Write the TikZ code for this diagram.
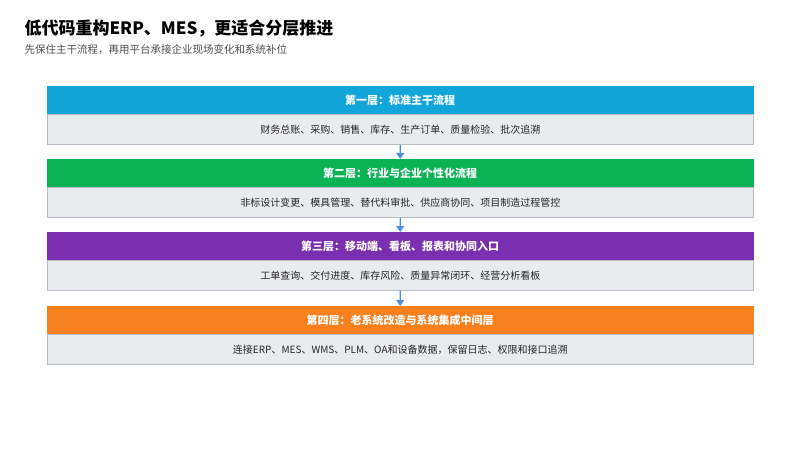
\documentclass[tikz,border=0pt]{standalone}
\usepackage{fontspec}
\setmainfont{Noto Sans CJK SC}
\usetikzlibrary{arrows.meta}
\definecolor{c1}{HTML}{12A5DA}
\definecolor{c2}{HTML}{0BB355}
\definecolor{c3}{HTML}{7A2FB0}
\definecolor{c4}{HTML}{F7801F}
\definecolor{bodyf}{HTML}{E9EBEF}
\definecolor{bodyd}{HTML}{B8BCC4}
\definecolor{arr}{HTML}{4A90E2}
\begin{document}
\begin{tikzpicture}[x=1pt,y=-1pt,
 hdr/.style={draw=#1,fill=#1,minimum width=706pt,minimum height=28pt,inner sep=0pt,text=white,font=\fontsize{11}{13}\selectfont\bfseries,anchor=north west},
 bod/.style={draw=bodyd,fill=bodyf,line width=0.6pt,minimum width=706pt,minimum height=30pt,inner sep=0pt,text=black!85,font=\fontsize{10}{12}\selectfont,anchor=north west},
 con/.style={arr,line width=1.2pt,-{Triangle[length=6pt,width=8pt]}}]
\useasboundingbox (0,0) rectangle (800,450);
\node[anchor=west,font=\fontsize{17}{20}\selectfont\bfseries] (t) at (21,28) {低代码重构ERP、MES，更适合分层推进};
\node[anchor=west,font=\fontsize{10.5}{12}\selectfont,text=black!70] (s) at (21,50) {先保住主干流程，再用平台承接企业现场变化和系统补位};
\node[hdr=c1] (h1) at (47,86) {第一层：标准主干流程};
\node[bod] (b1) at (47,114) {财务总账、采购、销售、库存、生产订单、质量检验、批次追溯};
\node[hdr=c2] (h2) at (47,159) {第二层：行业与企业个性化流程};
\node[bod] (b2) at (47,187) {非标设计变更、模具管理、替代料审批、供应商协同、项目制造过程管控};
\node[hdr=c3] (h3) at (47,232) {第三层：移动端、看板、报表和协同入口};
\node[bod] (b3) at (47,260) {工单查询、交付进度、库存风险、质量异常闭环、经营分析看板};
\node[hdr=c4] (h4) at (47,306) {第四层：老系统改造与系统集成中间层};
\node[bod] (b4) at (47,334) {连接ERP、MES、WMS、PLM、OA和设备数据，保留日志、权限和接口追溯};
\draw[con] (b1.south) -- (h2.north);
\draw[con] (b2.south) -- (h3.north);
\draw[con] (b3.south) -- (h4.north);
\end{tikzpicture}
\end{document}
